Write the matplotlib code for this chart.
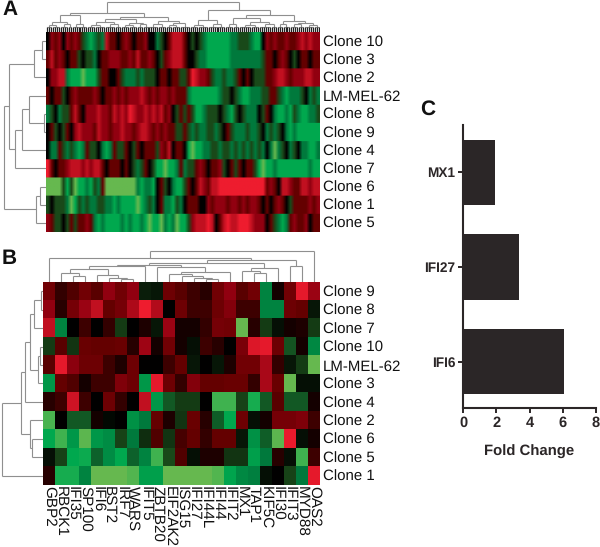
"""Clone expression heatmaps with dendrograms and a fold change bar panel."""
import matplotlib

matplotlib.use("Agg")
import matplotlib.pyplot as plt
import numpy as np
from matplotlib.colors import LinearSegmentedColormap

plt.rcParams["font.family"] = ["Liberation Sans", "DejaVu Sans"]
plt.rcParams["text.hinting"] = "none"

W, H = 600, 547
DARK = "#2b2627"
TREE_GREY = "#8f8f8f"

clones_a = ["Clone 10", "Clone 3", "Clone 2", "LM-MEL-62", "Clone 8", "Clone 9",
            "Clone 4", "Clone 7", "Clone 6", "Clone 1", "Clone 5"]
clones_b = ["Clone 9", "Clone 8", "Clone 7", "Clone 10", "LM-MEL-62", "Clone 3",
            "Clone 4", "Clone 2", "Clone 6", "Clone 5", "Clone 1"]
genes = ["GBP2", "RBCK1", "IFI35", "SP100", "IFI6", "BST2", "IRF7", "WARS", "IFIT5", "ZBTB20",
         "EIF2AK2", "ISG15", "IFI27", "IFI44L", "IFI44", "IFIT2", "MX1", "TAP1", "KIF5C",
         "IFI30", "IFIT3", "MYD88", "OAS2"]

# Panel A, stripes read left to right
a_clone10 = [0, 2, 1, 2, 0, 2, 1, 2, 1, -1, -2, -3, -2, -1, -2, 3, 1, 1, 0, 1,
             2, 1, 0, 1, 1, 2, 0, 0, -2, -1, 0, 1, 3, 3, 3, 1, 0, -1, 0, -1,
             -2, -3, -3, -3, -3, -3, -3, -2, -2, -1, -1, -1, -2, -3, -3, 0, 2, 1, 2, 1,
             1, 2, 1, 1, 2, 3, 2, 3, 2, 2]
a_clone3 = [1, 3, 1, 2, 1, 0, 1, 1, -1, 0, -1, -1, -2, 0, 1, 1, 2, 2, 2, 1,
            1, 2, 1, 3, 1, 1, 2, 1, 0, -1, 1, 2, 3, 3, 3, 1, 0, 0, -1, -2,
            -2, -3, -3, -3, -3, -3, -3, -2, -2, -2, -2, -2, -2, -2, -2, -1, 1, 1, 0, 1,
            2, 1, 0, -1, 0, 1, 1, 0, 1, 1]
a_clone2 = [0, 2, 2, 3, 3, -2, -3, -3, -3, -4, -3, -3, -3, -1, 1, 1, 0, 0, 1, -1,
            -2, -2, -2, -1, -2, -1, -1, -1, 0, 1, 1, 0, 1, 1, -1, -1, 1, 4, 3, 2,
            2, 1, -1, -2, -2, -1, -2, -2, -1, 1, 0, 1, 0, -1, -1, -1, 1, 1, 2, 3,
            3, 2, 1, 2, 2, 2, 3, 3, 2, 2]
a_lm = [1, 0, 1, 1, -1, 0, 1, 2, 1, 1, 1, 1, 2, 1, 0, 1, 1, 2, 1, 2,
        1, 2, 2, 2, 3, 2, 1, 2, 1, 2, 2, 1, 2, 1, 1, 1, -2, -3, -3, -3,
        -3, -3, -3, -3, -2, -1, -1, 0, -1, -2, -3, -3, -2, -2, -2, -1, -1, 1, 1, -1,
        -2, -3, -2, -2, -2, -1, 0, -2, -1, -2]
a_clone8 = [-2, -1, 0, -2, -1, -1, 1, 3, 1, 0, 2, 2, 2, 3, 2, 2, 1, 3, 2, 3,
            2, 4, 3, 2, 2, 3, 2, 3, 2, 3, 1, 2, 0, -1, 1, -1, 1, -1, -3, -3,
            -2, -1, -1, -1, 0, -1, -2, -3, -1, 0, -1, -2, -2, -2, 0, -1, 1, 0, -2, -3,
            -3, -2, -3, -1, -2, -3, -3, -2, -2, -1]
a_clone9 = [0, 1, -1, 0, -1, 1, 0, 2, 3, 2, 2, 2, 1, 3, 2, 2, 1, 2, 2, 3,
            2, 2, 1, 2, 3, 3, 2, 1, 2, 1, 2, 1, 1, -1, -1, 1, -1, -2, -1, -2,
            -2, -1, -1, -2, -1, 0, 1, -1, -2, -2, -2, -1, -2, -2, -1, 0, -2, -1, -2, -1,
            0, -2, -3, -2, -3, -3, -3, -3, -3, -3]
a_clone4 = [0, -2, -2, 1, -1, -2, -1, -2, -3, -2, 1, -1, -1, 0, -2, -3, -2, 1, -1, -1,
            1, 0, -1, 1, 0, 1, 1, 1, -1, 2, 1, 3, 0, 1, 1, 0, -3, -4, -3, -3,
            -2, -2, -1, -1, -2, -1, -1, -2, -1, -2, -1, -2, -1, -2, -1, -2, 0, -2, -4, -2,
            -1, 0, -2, -1, 0, -2, -2, -3, -3, -2]
a_clone7 = [4, 1, 0, 1, 1, 2, 3, 3, 3, 2, 3, 2, 3, 3, 1, 0, 1, 1, 1, 0,
            1, 0, -1, -2, -1, 1, 0, -1, -3, -3, -4, -3, -3, -2, 1, -2, -1, -1, 1, 2,
            1, 0, 1, 1, 2, -1, 0, 1, -1, 1, 0, 1, 1, -1, -3, -4, -3, -3, -2, -3,
            -3, -3, -3, -3, -3, -3, -3, -2, -3, -3]
a_clone6 = [-4, -4, -4, -4, -1, -3, -1, -4, -3, -3, -2, -3, -1, -2, 1, -4, -4, -4, -4, -4,
            -4, -4, -4, -2, -3, -2, -2, -3, 0, 1, -1, 0, -2, -3, -3, -1, 1, 0, 1, 3,
            2, 1, 3, 3, 4, 4, 4, 4, 4, 4, 4, 4, 4, 4, 4, 4, 1, 2, 1, 0,
            3, 3, 2, 1, 1, 3, 3, 2, 3, 3]
a_clone1 = [-1, 0, -1, -1, -1, -2, -4, -3, -1, -2, -1, -2, -2, -1, -1, -2, -2, -3, -2, -3,
            -3, -3, -3, -4, -3, -2, -1, -2, 0, 1, -2, -2, -3, -1, -2, 0, 1, 1, 1, 0,
            0, 2, 1, 2, 2, 2, 1, 2, 2, 1, 2, 1, 2, 2, 1, 0, 1, 0, 1, 2,
            1, 0, -1, 1, 1, 1, 1, 2, 1, 2]
a_clone5 = [2, 1, -1, -1, 0, -1, 1, -1, 1, 1, 2, 1, -2, -3, -2, -3, -3, -3, -3, -2,
            -3, -2, -3, -3, -2, -3, -4, -3, -3, -4, -2, -3, -2, -4, -3, -3, -1, 2, 3, 3,
            3, 4, 3, 0, 1, 3, 4, 3, 3, 4, 4, 4, 3, 2, 2, 2, 0, 1, -1, -2,
            -3, -2, 1, 2, 1, 1, 2, 0, 1, 1]

# Panel B, one list per clone in gene order
b_clone9 = [1.3, 0.5, 0.8, 1.3, 0.9, 2, 1.3, 2, -0.4, -0.3, 1.2, 0.9, 0.6, 0.4, 1.3, 2, 0.9, 1.3, -2.2, 0.2, 1.3, 3.8, 2.2]
b_clone8 = [2, 0.4, 1.4, 2.2, 3, 1, 1.4, 2.6, 4, 2.7, 0, 1.2, 0.6, 0.6, 1.2, 1.7, 0.6, 0.6, -2.2, -2.2, 1.2, 1, -0.3]
b_clone7 = [3, -2.2, 0, 0.6, 0, 0.5, -0.8, 0, 0.3, -0.3, 2.2, 0.2, 0.2, 0.5, 1.4, 1.3, -4, 0.4, -0.8, -0.2, 0.2, 0.3, -0.8]
b_clone10 = [-0.8, 0.9, -0.7, 1.1, 1, 1, 1.1, 0.4, 2.3, 0.2, 1.3, 0.2, -0.2, 0.6, 0.4, 0, 1.5, 3.6, 3.8, 1.2, -1.2, 0.2, -2.3]
b_lm = [0.9, 3.8, 1.9, 1.2, 1.2, 0.6, 0.3, 1.2, 0, 0, 0.6, 1, -0.3, 0, -0.3, 0.3, 1.3, 1.3, 2.5, 0.5, -0.3, -0.8, -4]
b_clone3 = [-2.6, 1, 0.8, 0.2, 0.6, 0.6, 1.6, 1.2, -2.6, 3.8, 1.2, 0.5, 1.7, 1, 1, 1.1, 1.1, 0.5, 2.5, 1.1, -4, -0.2, -0.2]
b_clone4 = [0.4, 0.6, 3.3, 0.6, 0, 1.2, 0.5, 0, 3, -2.6, -1.3, -0.8, -0.8, 0, -3.6, -3.6, -0.9, -3.2, -1.3, 0.9, -1.3, -1.3, 0.2]
b_clone2 = [-3.7, 0, -1.3, -1.3, 0.2, -0.1, 0, -2.5, -2, 1, 0.3, -0.7, 1.1, 0.4, -1.4, -3, 1.2, -0.2, 0.2, 1.4, 1.4, 1.6, 0.6]
b_clone6 = [-3, -3.6, -2.6, -3.9, -2.6, -2.4, -0.9, -2, -0.6, 0.8, -0.7, 0.7, 1, 0.5, 1, 1, -0.3, -2.5, -1.4, -3.9, 3.9, -0.2, 0.2]
b_clone5 = [-0.2, -0.9, -3, -3.1, -1.5, -2.4, -3, -1.5, -2.2, -3.6, -1, 0.8, -0.2, 0.3, 0.3, -0.7, -0.7, -2.8, -2, 0.4, -0.2, -3.6, 0.6]
b_clone1 = [0.4, -3.2, -3.2, -2.2, -4, -4, -4, -3.8, -2.8, -2.8, -4, -4, -4, -4, -3.8, -2.9, -2.3, -2.1, -0.2, 0, -0.9, -2, 3.8]

# Panel C
fold_genes = ["IFI6", "IFI27", "MX1"]
fold_change = [6.05, 3.35, 1.95]
fold_ticks = [0, 2, 4, 6, 8]

# Dendrograms: [height in px, child, child, ...]. In the A gene tree an int child is a brush of that many leaves.
tree_a_genes = [30,
                [19.5,
                 [17, [10, [7, 3, 4], [8, 4, 2]], [8, 4, 4]],
                 [15.5, [13, [10, [7, 4, 5], [8, 5, 3]], [9, [7, 4, 4], [8, 3, 3]]],
                  [11, [8, 5, 4], [9, [7, 3, 4], 5]]]],
                [22,
                 [12, [7, 4, 5], [8, 5, 4]],
                 [17, [14, [8, 4, 3], [10, [7, 6, 4], [8, 6, 3]]],
                  [11, [8, 3, 4], [9, [8, 4, 3], [7, 5, 3]]]]]]
tree_a_clones = [42,
                 [37, [12, [4, 1, 1], 1], [31, [24, [17, 1, [2, 1, 1]], 1], 1]],
                 [10, [6, 1, 1], 1]]
tree_b_clones = [41,
                 [22, [18, [13, [9, [2, 1, 1], 1], [5, [3, 1, 1], 1]], 1], [13, 1, [11, 1, 1]]],
                 1]
tree_b_genes = [31,
                [24, 1,
                 [22,
                  [19,
                   [17,
                    [16,
                     [13, [9, 1, [6, 1, 1]], [7, 1, [4.5, 1, [3, 1, 1]]]],
                     1],
                    [15, 1, [10, [8, 1, [6, 1, [4, 1, [3, 1, 1]]]], 1]]],
                   [14.5, [11, 1, [9, 1, 1]], 1]],
                  [16, 1, 1]]],
                1]

BRUSH_H = 5.0


def px_axes(fig, left, top, right, bottom):
    return fig.add_axes([left / W, 1 - bottom / H, (right - left) / W, (bottom - top) / H])


def count_leaves(node):
    if isinstance(node, int):
        return node
    return sum(count_leaves(c) for c in node[1:])


def layout(node, start, segs, leaf_segs):
    """Collect bracket segments, returns (centre, height) of the node."""
    if isinstance(node, int):
        xs = [start + i + 0.5 for i in range(node)]
        if node == 1:
            return xs[0], 0.0
        for x in xs:
            leaf_segs.append(((x, 0), (x, BRUSH_H)))
        segs.append(((xs[0], BRUSH_H), (xs[-1], BRUSH_H)))
        return (xs[0] + xs[-1]) / 2, BRUSH_H
    height = node[0]
    pos = start
    centres = []
    for child in node[1:]:
        c, h = layout(child, pos, segs, leaf_segs)
        segs.append(((c, h), (c, height)))
        centres.append(c)
        pos += count_leaves(child)
    segs.append(((centres[0], height), (centres[-1], height)))
    return (centres[0] + centres[-1]) / 2, height


def draw_dendrogram(ax, tree, max_h, vertical=True):
    """vertical: root on top with leaves at the bottom. Otherwise root on the left."""
    segs, leaf_segs = [], []
    layout(tree, 0, segs, leaf_segs)
    n = count_leaves(tree)
    for seg_list, color, lw in ((segs, TREE_GREY, 0.8), (leaf_segs, "#222222", 0.9)):
        for (x0, y0), (x1, y1) in seg_list:
            if vertical:
                ax.plot([x0, x1], [y0, y1], color=color, lw=lw, solid_capstyle="butt")
            else:
                ax.plot([y0, y1], [x0, x1], color=color, lw=lw, solid_capstyle="butt")
    if vertical:
        ax.set_xlim(0, n)
        ax.set_ylim(0, max_h)
    else:
        ax.set_xlim(max_h, 0)
        ax.set_ylim(n, 0)
    ax.axis("off")


def draw_heatmap(ax, values, row_labels, soft=False):
    grid = np.array(values, dtype=float)
    n_rows, n_cols = grid.shape
    if soft:
        # blend neighbouring stripes but keep the rows crisp
        ax.imshow(np.repeat(grid, 20, axis=0), cmap=HEAT, vmin=-4, vmax=4, aspect="auto",
                  interpolation="bilinear", extent=(0, n_cols, n_rows, 0))
    else:
        ax.imshow(grid, cmap=HEAT, vmin=-4, vmax=4, aspect="auto", interpolation="nearest",
                  extent=(0, n_cols, n_rows, 0))
    ax.set_yticks(np.arange(n_rows) + 0.5)
    ax.set_yticklabels(row_labels, fontsize=10.8, color="#111111")
    ax.yaxis.tick_right()
    ax.tick_params(axis="y", length=0, pad=2)
    ax.set_xticks([])
    for spine in ax.spines.values():
        spine.set_visible(False)


HEAT = LinearSegmentedColormap.from_list(
    "green_black_red",
    ["#66b84f", "#00a94f", "#007a3d", "#1a4a1a", "#000000", "#640000", "#900010", "#c01020", "#ee1c2e"],
)

fig = plt.figure(figsize=(W / 100, H / 100), dpi=100)

# Panel A
ax_a = px_axes(fig, 46, 32, 320, 232)
draw_heatmap(ax_a, [a_clone10, a_clone3, a_clone2, a_lm, a_clone8, a_clone9, a_clone4, a_clone7,
                    a_clone6, a_clone1, a_clone5], clones_a, soft=True)
draw_dendrogram(px_axes(fig, 46, 0, 320, 32), tree_a_genes, 32)
draw_dendrogram(px_axes(fig, 0, 32, 46, 232), tree_a_clones, 46, vertical=False)

# Panel B
ax_b = px_axes(fig, 43, 282, 320, 485)
draw_heatmap(ax_b, [b_clone9, b_clone8, b_clone7, b_clone10, b_lm, b_clone3, b_clone4, b_clone2,
                    b_clone6, b_clone5, b_clone1], clones_b)
ax_b.set_xticks(np.arange(len(genes)) + 0.5)
ax_b.set_xticklabels(genes, rotation=270, fontsize=11, color="#111111")
ax_b.tick_params(axis="x", length=0, pad=1)
draw_dendrogram(px_axes(fig, 43, 245, 320, 282), tree_b_genes, 37)
draw_dendrogram(px_axes(fig, 0, 282, 43, 485), tree_b_clones, 43, vertical=False)

# Panel C
ax_c = px_axes(fig, 463, 125, 596, 408)
ax_c.barh(np.arange(len(fold_genes)), fold_change, height=0.69, color=DARK)
ax_c.set_xlim(0, 8)
ax_c.set_ylim(-0.49, 2.5)
ax_c.set_yticks(np.arange(len(fold_genes)))
ax_c.set_yticklabels(fold_genes, fontsize=9.8, fontweight="bold", color=DARK)
ax_c.set_xticks(fold_ticks)
ax_c.set_xticklabels(fold_ticks, fontsize=10.5, fontweight="bold", color=DARK)
ax_c.tick_params(axis="both", length=3.6, width=1.4, color=DARK, pad=2)
ax_c.set_xlabel("Fold Change", fontsize=10.7, fontweight="bold", color=DARK, labelpad=11)
ax_c.spines["top"].set_visible(False)
ax_c.spines["right"].set_visible(False)
ax_c.spines["left"].set_linewidth(1.5)
ax_c.spines["bottom"].set_linewidth(1.5)
ax_c.spines["left"].set_color(DARK)
ax_c.spines["bottom"].set_color(DARK)

for letter, x, y in (("A", 2, 15), ("B", 2, 264), ("C", 420, 115)):
    fig.text(x / W, 1 - y / H, letter, fontsize=15, fontweight="bold", color="#111111", ha="left", va="baseline")

fig.savefig("out.png", dpi=100)
